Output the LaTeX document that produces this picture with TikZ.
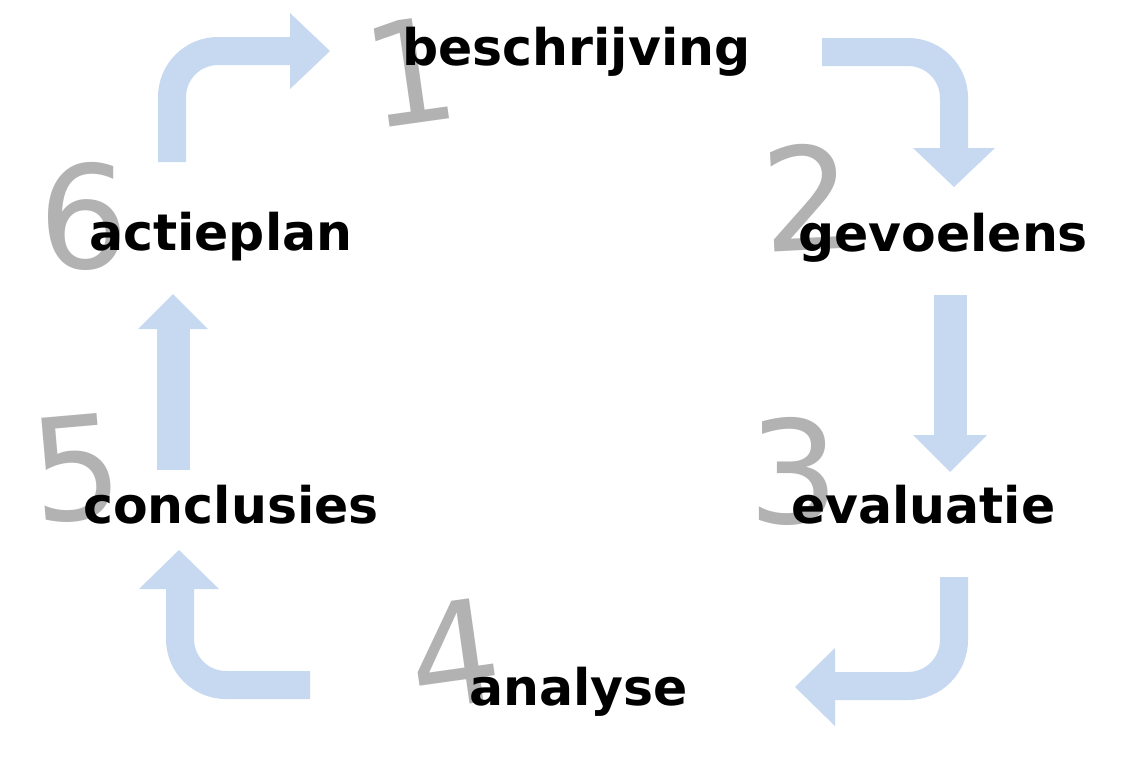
\documentclass[tikz,border=0pt]{standalone}
\usepackage{fontspec}
\setmainfont{DejaVu Sans}
\definecolor{arrowblue}{RGB}{198,217,240}
\definecolor{numgray}{RGB}{178,178,178}
\tikzset{
  shaft/.style={draw=arrowblue, line cap=butt, rounded corners=46pt},
  head/.style={fill=arrowblue},
  lbl/.style={anchor=base west, inner sep=0pt, text=black, font=\fontsize{50.5}{50.5}\selectfont\bfseries},
  num/.style={anchor=base, inner sep=0pt, text=numgray, font=\fontsize{143}{143}\selectfont}
}
\begin{document}
\begin{tikzpicture}[x=1pt,y=-1pt]
\useasboundingbox[fill=white] (0,0) rectangle (1122,772);
% big gray step numbers
\node[num, rotate=8] (n1) at (418,123) {1};
\node[num, rotate=3] (n2) at (810,250) {2};
\node[num] (n3) at (794,523) {3};
\node[num, rotate=8] (n4) at (462,705) {4};
\node[num, rotate=5] (n5) at (81,520) {5};
\node[num] (n6) at (84,268) {6};
% block arrows
% 1: actieplan -> beschrijving
\draw[shaft, line width=28pt] (172,162) -- (172,51) -- (291,51);
\fill[head] (290,13) -- (330,51) -- (290,89) -- cycle;
% 2: beschrijving -> gevoelens
\draw[shaft, line width=28pt] (822,52) -- (954,52) -- (954,149);
\fill[head] (913,148) -- (954,187) -- (995,148) -- cycle;
% 3: gevoelens -> evaluatie
\draw[shaft, line width=33pt] (950,295) -- (950,436);
\fill[head] (913,435) -- (950,472) -- (987,435) -- cycle;
% 4: evaluatie -> analyse
\draw[shaft, line width=28pt] (954,577) -- (954,686) -- (834,686);
\fill[head] (835,648) -- (795,687) -- (835,726) -- cycle;
% 5: analyse -> conclusies
\draw[shaft, line width=28pt] (310,685) -- (180,685) -- (180,588);
\fill[head] (139,589) -- (179,550) -- (219,589) -- cycle;
% 6: conclusies -> actieplan
\draw[shaft, line width=33pt] (173,470) -- (173,328);
\fill[head] (138,329) -- (173,294) -- (208,329) -- cycle;
% step labels
\node[lbl] (beschrijving) at (402,65) {beschrijving};
\node[lbl] (gevoelens) at (798,251) {gevoelens};
\node[lbl] (evaluatie) at (791,523) {evaluatie};
\node[lbl] (analyse) at (469,705) {analyse};
\node[lbl] (conclusies) at (83,523) {conclusies};
\node[lbl] (actieplan) at (89,250) {actieplan};
\end{tikzpicture}
\end{document}
